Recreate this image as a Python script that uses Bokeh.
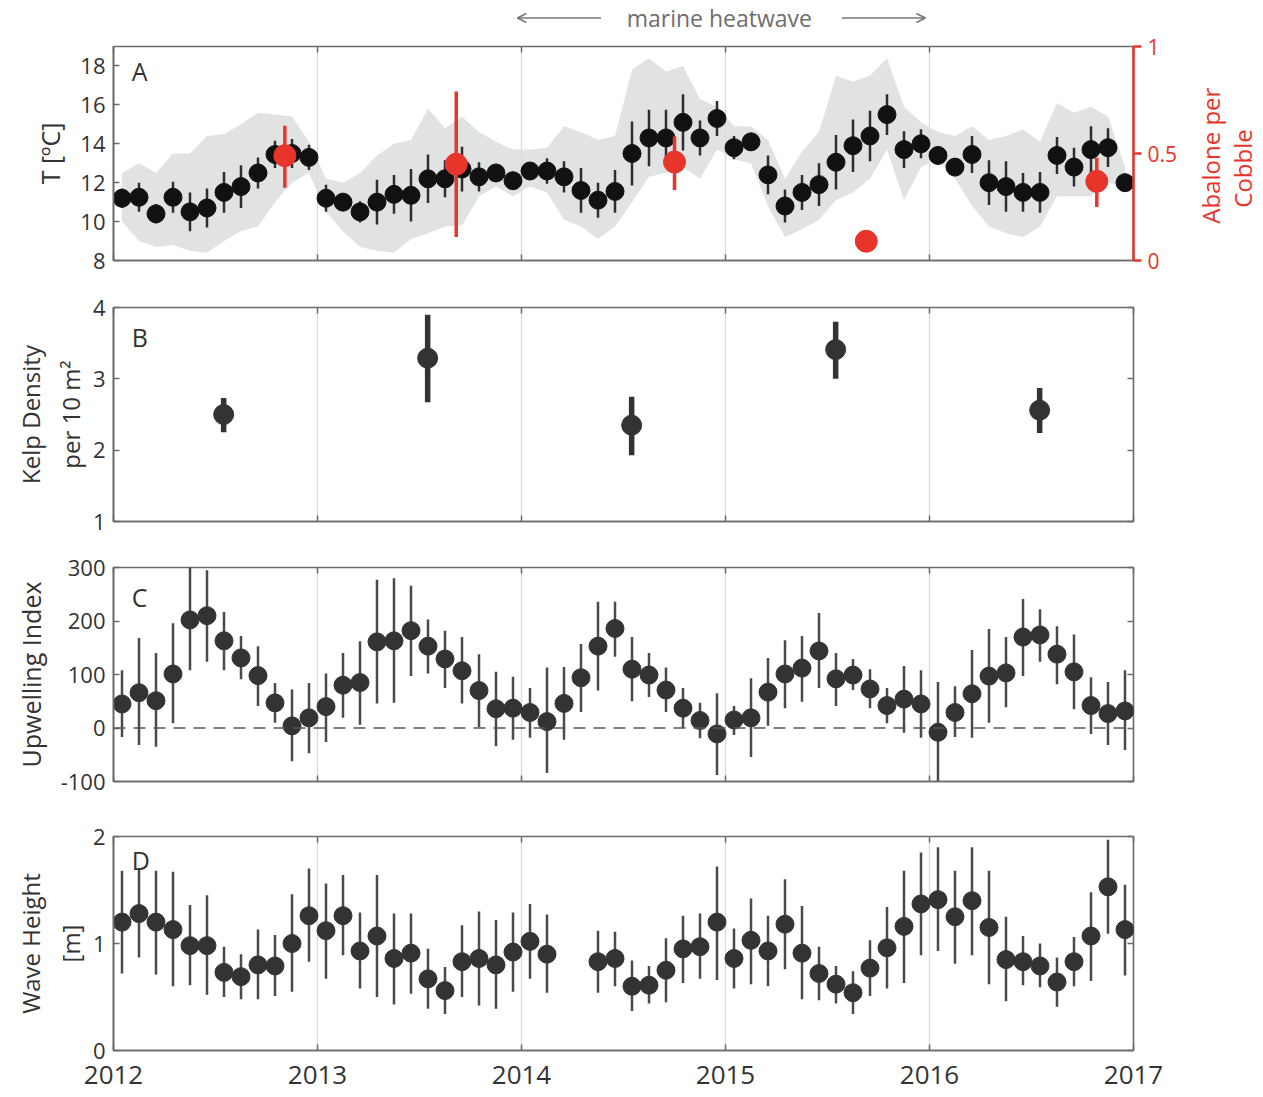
import math
from bokeh.plotting import figure
from bokeh.layouts import column, row
from bokeh.models import (Range1d, LinearAxis, FixedTicker, Span, Label, Arrow,
                          OpenHead, ColumnDataSource)
from bokeh.embed import file_html
from bokeh.resources import INLINE

# ---------------- data ----------------
years = [2012, 2013, 2014, 2015, 2016]
year_ticks = [2012, 2013, 2014, 2015, 2016, 2017]
month_t = [y + (m - 0.5) / 12 for y in years for m in range(1, 13)]

# Panel A: monthly mean temperature (degC) and error half-width
temp_mean = [11.2, 11.25, 10.4, 11.25, 10.5, 10.7, 11.5, 11.8, 12.5, 13.45, 13.5, 13.3,
             11.2, 11.0, 10.5, 11.0, 11.4, 11.35, 12.2, 12.2, 12.7, 12.3, 12.5, 12.1,
             12.6, 12.6, 12.3, 11.6, 11.1, 11.55, 13.5, 14.3, 14.3, 15.1, 14.3, 15.3,
             13.8, 14.1, 12.4, 10.8, 11.5, 11.9, 13.05, 13.9, 14.4, 15.5, 13.7, 14.0,
             13.4, 12.8, 13.45, 12.0, 11.8, 11.5, 11.5, 13.4, 12.8, 13.7, 13.8, 12.0]
temp_err = [0.5, 0.75, 0.5, 0.8, 1.0, 1.0, 1.05, 1.1, 0.8, 0.7, 0.75, 0.65,
            0.7, 0.4, 0.55, 1.15, 1.0, 1.35, 1.25, 0.95, 1.15, 0.75, 0.45, 0.4,
            0.45, 0.65, 0.8, 1.15, 0.9, 1.1, 1.65, 1.45, 1.45, 1.45, 0.9, 0.9,
            0.6, 0.4, 1.0, 0.85, 0.9, 1.1, 1.4, 1.35, 1.3, 1.05, 0.95, 0.75,
            0.3, 0.45, 0.95, 1.15, 1.3, 1.0, 1.05, 0.95, 1.0, 1.2, 1.0, 0.3]
# envelope of the daily temperature record (grey), per month
temp_hi = [12.5, 13.0, 12.5, 13.5, 13.5, 14.4, 14.5, 15.0, 15.6, 15.5, 15.4, 14.1,
           12.2, 12.0, 12.5, 13.4, 14.0, 14.2, 15.8, 14.8, 15.4, 14.6, 14.1, 13.7,
           13.7, 13.8, 14.9, 14.6, 14.2, 14.4, 17.8, 18.4, 17.7, 18.0, 16.3, 15.9,
           14.9, 14.9, 14.2, 12.2, 13.6, 14.6, 17.5, 17.2, 17.5, 18.4, 15.9, 15.1,
           14.6, 14.4, 14.9, 14.2, 14.4, 14.75, 14.1, 16.1, 15.6, 15.9, 15.4, 12.8]
temp_lo = [10.0, 9.0, 8.7, 8.8, 8.5, 8.4, 9.0, 9.5, 9.75, 11.0, 12.0, 12.5,
           10.5, 9.5, 8.7, 8.5, 8.4, 9.1, 9.4, 9.75, 9.8, 11.3, 11.8, 11.3,
           11.8, 11.5, 10.1, 9.75, 9.1, 9.75, 11.0, 12.3, 12.5, 12.8, 12.2, 13.7,
           13.2, 13.0, 10.8, 9.2, 9.6, 10.1, 11.1, 11.5, 12.2, 13.7, 11.1, 12.8,
           13.2, 12.2, 10.8, 9.75, 9.4, 9.2, 9.75, 11.3, 11.3, 11.3, 12.0, 11.8]

# Abalone per cobble (right axis)
abal_t = [2012.84, 2013.68, 2014.75, 2015.69, 2016.82]
abal_mean = [0.49, 0.45, 0.46, 0.09, 0.37]
abal_lo = [0.34, 0.11, 0.33, 0.09, 0.25]
abal_hi = [0.63, 0.79, 0.58, 0.09, 0.48]

# Panel B: kelp density
kelp_t = [2012.54, 2013.54, 2014.54, 2015.54, 2016.54]
kelp_mean = [2.50, 3.29, 2.35, 3.41, 2.56]
kelp_lo = [2.25, 2.67, 1.93, 3.00, 2.24]
kelp_hi = [2.73, 3.90, 2.75, 3.80, 2.87]

# Panel C: upwelling index
upw_mean = [45, 66, 51, 101, 202, 210, 163, 131, 98, 47, 4, 19,
            40, 80, 85, 161, 163, 182, 153, 129, 107, 70, 36, 37,
            29, 12, 46, 94, 153, 186, 110, 99, 71, 37, 14, -11,
            15, 19, 67, 101, 112, 144, 92, 99, 73, 42, 54, 45,
            -8, 29, 64, 97, 103, 170, 174, 138, 105, 42, 27, 32]
upw_hi = [108, 168, 140, 196, 301, 295, 217, 172, 153, 84, 72, 84,
          102, 140, 162, 277, 280, 266, 203, 182, 170, 138, 105, 96,
          75, 113, 114, 157, 236, 236, 170, 140, 113, 75, 47, 65,
          41, 93, 131, 164, 172, 215, 140, 129, 110, 75, 116, 108,
          86, 78, 146, 185, 170, 241, 222, 190, 175, 95, 86, 108]
upw_lo = [-17, -32, -35, 9, 108, 124, 108, 91, 41, 10, -62, -47,
          -26, 19, 6, 46, 47, 97, 102, 75, 46, 2, -34, -22,
          -18, -84, -22, 30, 70, 133, 50, 58, 30, 0, -19, -88,
          -13, -54, 4, 37, 49, 75, 41, 71, 37, 9, -9, -18,
          -103, -17, -18, 10, 39, 97, 124, 82, 35, -11, -32, -41]

# Panel D: wave height (m); Mar/Apr 2014 missing
nan = float("nan")
wave_mean = [1.20, 1.28, 1.20, 1.13, 0.98, 0.98, 0.73, 0.69, 0.80, 0.79, 1.00, 1.26,
             1.12, 1.26, 0.93, 1.07, 0.86, 0.91, 0.67, 0.56, 0.83, 0.86, 0.80, 0.92,
             1.02, 0.90, nan, nan, 0.83, 0.86, 0.60, 0.61, 0.75, 0.95, 0.97, 1.20,
             0.86, 1.03, 0.93, 1.18, 0.91, 0.72, 0.62, 0.54, 0.77, 0.96, 1.16, 1.37,
             1.41, 1.25, 1.40, 1.15, 0.85, 0.83, 0.79, 0.64, 0.83, 1.07, 1.53, 1.13]
wave_hi = [1.68, 1.70, 1.68, 1.67, 1.36, 1.45, 0.97, 0.90, 1.13, 1.08, 1.46, 1.70,
           1.56, 1.64, 1.29, 1.64, 1.28, 1.28, 0.95, 0.78, 1.17, 1.30, 1.22, 1.29,
           1.37, 1.27, nan, nan, 1.12, 1.11, 0.84, 0.79, 1.05, 1.26, 1.28, 1.72,
           1.14, 1.42, 1.26, 1.60, 1.35, 0.97, 0.79, 0.74, 1.03, 1.34, 1.68, 1.85,
           1.90, 1.68, 1.90, 1.68, 1.25, 1.07, 1.00, 0.87, 1.06, 1.48, 1.97, 1.55]
wave_lo = [0.72, 0.87, 0.71, 0.60, 0.61, 0.52, 0.50, 0.48, 0.48, 0.51, 0.55, 0.83,
           0.67, 0.89, 0.58, 0.50, 0.43, 0.53, 0.39, 0.34, 0.50, 0.42, 0.39, 0.55,
           0.67, 0.54, nan, nan, 0.54, 0.60, 0.37, 0.44, 0.45, 0.63, 0.67, 0.66,
           0.58, 0.62, 0.60, 0.76, 0.48, 0.47, 0.44, 0.34, 0.51, 0.58, 0.63, 0.89,
           0.93, 0.81, 0.89, 0.62, 0.46, 0.61, 0.59, 0.41, 0.60, 0.65, 1.09, 0.70]

# ---------------- styling ----------------
FONT = "Open Sans"
TXT = "#333333"
FRAME = "#6b6b6b"
RED = "#e8352b"
LEFT = 113      # left border of every main figure (large enough for every y label)
RIGHT = 60      # right border of every main figure
SIDE_W = 64     # width of the side strip next to every main figure

xr = Range1d(2012, 2017)


def hide_labels(ax):
    ax.major_label_text_font_size = "1px"
    ax.major_label_text_color = None
    ax.major_label_standoff = 0


def mirror_axis(ticks):
    ax = LinearAxis(ticker=FixedTicker(ticks=ticks))
    hide_labels(ax)
    ax.major_tick_in = 6
    ax.major_tick_out = 0
    ax.major_tick_line_color = FRAME
    ax.major_tick_line_width = 1.5
    ax.minor_tick_line_color = None
    ax.axis_line_color = None
    return ax


def make_fig(yr, yticks, top, bottom, ylabel, show_x=False, right_mirror=True,
             label_size="25px", label_standoff=10):
    p = figure(frame_width=1020, frame_height=214, x_range=xr, y_range=Range1d(*yr),
               output_backend="svg", toolbar_location=None,
               min_border_left=LEFT, min_border_right=RIGHT,
               min_border_top=top, min_border_bottom=bottom,
               background_fill_color="white", border_fill_color="white")
    p.outline_line_color = FRAME
    p.outline_line_width = 1.6
    # x axis
    p.xaxis.ticker = FixedTicker(ticks=year_ticks)
    p.xaxis.major_tick_in = 6
    p.xaxis.major_tick_out = 0
    p.xaxis.major_tick_line_color = FRAME
    p.xaxis.major_tick_line_width = 1.5
    p.xaxis.minor_tick_line_color = None
    p.xaxis.axis_line_color = FRAME
    p.xaxis.axis_line_width = 1.6
    if show_x:
        p.xaxis.major_label_text_font = FONT
        p.xaxis.major_label_text_font_size = "26px"
        p.xaxis.major_label_text_color = TXT
        p.xaxis.major_label_standoff = 15
    else:
        hide_labels(p.xaxis[0])
    # y axis
    p.yaxis.ticker = FixedTicker(ticks=yticks)
    p.yaxis.major_tick_in = 6
    p.yaxis.major_tick_out = 0
    p.yaxis.major_tick_line_color = FRAME
    p.yaxis.major_tick_line_width = 1.5
    p.yaxis.minor_tick_line_color = None
    p.yaxis.axis_line_color = FRAME
    p.yaxis.axis_line_width = 1.6
    p.yaxis.major_label_text_font = FONT
    p.yaxis.major_label_text_font_size = "22px"
    p.yaxis.major_label_text_color = TXT
    p.yaxis.major_label_standoff = 8
    p.yaxis.axis_label = ylabel
    p.yaxis.axis_label_text_font = FONT
    p.yaxis.axis_label_text_font_size = label_size
    p.yaxis.axis_label_text_font_style = "normal"
    p.yaxis.axis_label_text_color = TXT
    p.yaxis.axis_label_standoff = label_standoff
    # grids: light vertical year lines only
    p.xgrid.ticker = FixedTicker(ticks=year_ticks)
    p.xgrid.grid_line_color = "#d9d9d9"
    p.xgrid.grid_line_width = 1.3
    p.ygrid.grid_line_color = None
    # mirrored ticks
    p.add_layout(mirror_axis(year_ticks), "above")
    if right_mirror:
        p.add_layout(mirror_axis(yticks), "right")
    return p


def panel_letter(p, x, y, text):
    p.add_layout(Label(x=x, y=y, text=text, text_font=FONT, text_font_size="25px",
                       text_color=TXT, text_align="left", text_baseline="top"))


def blank_fig(w, h, top, bottom, left, right, xrange_=None):
    f = figure(frame_width=w, frame_height=h,
               x_range=xrange_ if xrange_ is not None else Range1d(0, 1),
               y_range=Range1d(0, 1), output_backend="svg", toolbar_location=None,
               x_axis_location=None, y_axis_location=None,
               min_border_left=left, min_border_right=right,
               min_border_top=top, min_border_bottom=bottom,
               background_fill_color="white", border_fill_color="white")
    f.grid.visible = False
    f.outline_line_color = None
    return f


def side(h_top, h_bottom, frame_h=214):
    return blank_fig(SIDE_W, frame_h, h_top, h_bottom, 0, 0)


# ---------------- strip with the heatwave annotation ----------------
pS = blank_fig(1020, 33, 0, 0, LEFT, RIGHT, xrange_=xr)
pS.add_layout(Label(x=2014.97, y=0.47, text="marine heatwave", text_font=FONT,
                    text_font_size="23px", text_color="#6e6e6e", text_align="center",
                    text_baseline="middle"))
pS.add_layout(Arrow(end=OpenHead(size=9, line_color="#777777", line_width=1.5),
                    x_start=2014.39, y_start=0.47, x_end=2013.98, y_end=0.47,
                    line_color="#777777", line_width=1.5))
pS.add_layout(Arrow(end=OpenHead(size=9, line_color="#777777", line_width=1.5),
                    x_start=2015.57, y_start=0.47, x_end=2015.98, y_end=0.47,
                    line_color="#777777", line_width=1.5))

# ---------------- Panel A ----------------
pA = make_fig((8, 19), [8, 10, 12, 14, 16, 18], 13, 20, "T [ºC]", right_mirror=False)
pA.extra_y_ranges = {"ab": Range1d(0, 1)}
srcT = ColumnDataSource(dict(t=month_t, m=temp_mean, lo=temp_lo, hi=temp_hi,
                             elo=[m - e for m, e in zip(temp_mean, temp_err)],
                             ehi=[m + e for m, e in zip(temp_mean, temp_err)]))
pA.varea(x="t", y1="lo", y2="hi", source=srcT, fill_color="#d9dcdc", fill_alpha=0.8)
pA.segment(x0="t", y0="elo", x1="t", y1="ehi", source=srcT, line_color="#2e2e2e", line_width=2.5)
pA.scatter(x="t", y="m", source=srcT, size=18, fill_color="#111111", line_color="#111111")

srcA = ColumnDataSource(dict(t=abal_t, m=abal_mean, lo=abal_lo, hi=abal_hi))
pA.segment(x0="t", y0="lo", x1="t", y1="hi", source=srcA, line_color=RED, line_width=3.5,
           y_range_name="ab")
pA.scatter(x="t", y="m", source=srcA, size=22, fill_color=RED, line_color=RED, y_range_name="ab")

axR = LinearAxis(y_range_name="ab", ticker=FixedTicker(ticks=[0, 0.5, 1]),
                 major_label_overrides={0: "0", 0.5: "0.5", 1: "1"})
axR.axis_line_color = RED
axR.axis_line_width = 2.5
axR.major_tick_line_color = RED
axR.major_tick_line_width = 2.5
axR.major_tick_out = 8
axR.major_tick_in = 0
axR.minor_tick_line_color = None
axR.major_label_text_color = RED
axR.major_label_text_font = FONT
axR.major_label_text_font_size = "21px"
axR.major_label_standoff = 6
pA.add_layout(axR, "right")
panel_letter(pA, 2012.09, 18.64, "A")

# right-hand axis title "Abalone per / Cobble" in the side strip of panel A
pL = side(13, 20)
pL.add_layout(Label(x=0.27, y=0.49, text="Abalone per", angle=math.pi / 2,
                    text_font=FONT, text_font_size="24px", text_color=RED,
                    text_align="center", text_baseline="middle"))
pL.add_layout(Label(x=0.76, y=0.43, text="Cobble", angle=math.pi / 2,
                    text_font=FONT, text_font_size="24px", text_color=RED,
                    text_align="center", text_baseline="middle"))

# ---------------- Panel B ----------------
pB = make_fig((1, 4), [1, 2, 3, 4], 27, 20, "Kelp Density\nper 10 m²",
              label_size="24px", label_standoff=3)
srcK = ColumnDataSource(dict(t=kelp_t, m=kelp_mean, lo=kelp_lo, hi=kelp_hi))
pB.segment(x0="t", y0="lo", x1="t", y1="hi", source=srcK, line_color="#333333", line_width=5.5)
pB.scatter(x="t", y="m", source=srcK, size=20, fill_color="#333333", line_color="#333333")
panel_letter(pB, 2012.09, 3.82, "B")

# ---------------- Panel C ----------------
pC = make_fig((-100, 300), [-100, 0, 100, 200, 300], 26, 20, "Upwelling Index")
pC.yaxis.major_label_overrides = {-100: "-100"}
pC.add_layout(Span(location=0, dimension="width", line_color="#555555", line_width=1.5,
                   line_dash="12 8"))
srcU = ColumnDataSource(dict(t=month_t, m=upw_mean, lo=upw_lo, hi=upw_hi))
pC.segment(x0="t", y0="lo", x1="t", y1="hi", source=srcU, line_color="#4a4a4a", line_width=2.5)
pC.scatter(x="t", y="m", source=srcU, size=18, fill_color="#333333", line_color="#333333")
panel_letter(pC, 2012.09, 276, "C")

# ---------------- Panel D ----------------
pD = make_fig((0, 2), [0, 1, 2], 35, 44, "Wave Height\n[m]", show_x=True,
              label_size="24px", label_standoff=3)
srcW = ColumnDataSource(dict(t=month_t, m=wave_mean, lo=wave_lo, hi=wave_hi))
pD.segment(x0="t", y0="lo", x1="t", y1="hi", source=srcW, line_color="#4a4a4a", line_width=2.5)
pD.scatter(x="t", y="m", source=srcW, size=18, fill_color="#333333", line_color="#333333")
panel_letter(pD, 2012.09, 1.935, "D")

layout = column(
    row(pS, side(0, 0, 33), spacing=0),
    row(pA, pL, spacing=0),
    row(pB, side(27, 20), spacing=0),
    row(pC, side(26, 20), spacing=0),
    row(pD, side(35, 44), spacing=0),
    spacing=0)
open("out.html", "w").write(file_html(layout, INLINE))
